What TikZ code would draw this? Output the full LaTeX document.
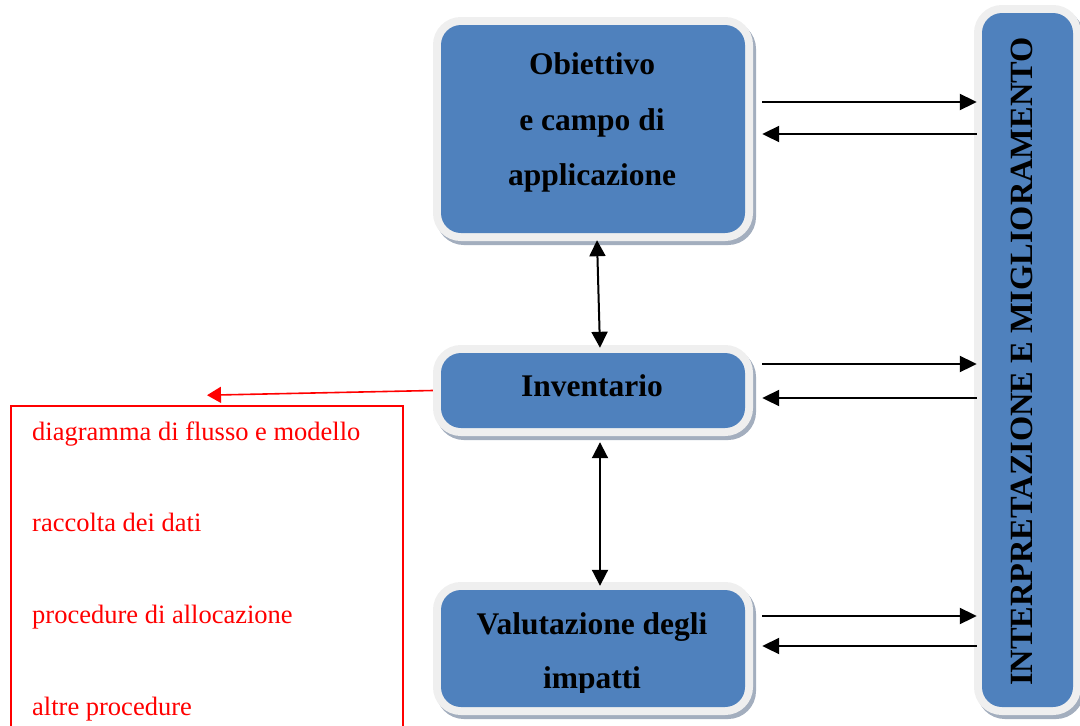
\documentclass[tikz,border=0pt]{standalone}
\usepackage{fontspec}
\setmainfont{Liberation Serif}
\usetikzlibrary{arrows.meta}
\definecolor{phaseblue}{HTML}{4F81BD}
\definecolor{framegray}{HTML}{EFEFEF}
\definecolor{shadowgray}{HTML}{A3AEBE}
\begin{document}
\begin{tikzpicture}[x=1pt,y=-1pt,
  phase/.style={rounded corners=20pt, fill=phaseblue, inner sep=0pt, draw=none,
    preaction={draw=shadowgray, fill=shadowgray, line width=16pt,
      transform canvas={shift={(3pt,-4pt)}}},
    preaction={draw=framegray, fill=framegray, line width=16pt}},
  phasetext/.style={anchor=base, inner sep=0pt, font=\fontsize{31.5}{36}\selectfont\bfseries},
  sidetext/.style={rotate=90, inner sep=0pt, font=\fontsize{32.4}{36}\selectfont\bfseries},
  notetext/.style={anchor=base west, inner sep=0pt, text=red, font=\fontsize{26.5}{30}\selectfont},
  arr/.style={line width=2pt, -{Triangle[length=17pt,width=16pt]}},
  dblarr/.style={line width=2pt, {Triangle[length=16pt,width=16pt]}-{Triangle[length=16pt,width=16pt]}},
  notebox/.style={draw=red, line width=1.6pt, inner sep=0pt},
  notearr/.style={draw=red, line width=1.6pt, -{Triangle[length=14pt,width=16pt]}}]
\useasboundingbox (0,0) rectangle (1080,726);

% phase boxes
\node[phase, minimum width=304pt, minimum height=208pt] (b1) at (593,129) {};
\node[phase, minimum width=304pt, minimum height=75pt] (b2) at (593,390.5) {};
\node[phase, minimum width=304pt, minimum height=117pt] (b3) at (593,648.5) {};
\node[phase, minimum width=91pt, minimum height=694pt] (r) at (1027.5,360) {};

% box labels
\node[phasetext] (t1a) at (592,74) {Obiettivo};
\node[phasetext] (t1b) at (592,130) {e campo di};
\node[phasetext] (t1c) at (592,185) {applicazione};
\node[phasetext] (t2) at (592,396) {Inventario};
\node[phasetext] (t3a) at (592,634) {Valutazione degli};
\begin{scope}
  \clip (441,590) rectangle (745,692);
  \node[phasetext] (t3b) at (592,688) {impatti};
\end{scope}
\node[sidetext] (tr) at (1022,361.5) {INTERPRETAZIONE E MIGLIORAMENTO};

% note box
\node[notebox, minimum width=392pt, minimum height=340pt] (rb) at (207,576) {};
\node[notetext] (n1) at (32,440) {diagramma di flusso e modello};
\node[notetext] (n2) at (32,531.5) {raccolta dei dati};
\node[notetext] (n3) at (32,623.5) {procedure di allocazione};
\node[notetext] (n4) at (32,715) {altre procedure};

% attachment points
\coordinate (b1e) at ([xshift=17pt]b1.east);
\coordinate (b2e) at ([xshift=17pt]b2.east);
\coordinate (b3e) at ([xshift=17pt]b3.east);
\coordinate (rin) at ([xshift=-5pt]r.west);

% exchanges with interpretation
\draw[arr] (b1e |- 0,102) -- (rin |- 0,102);
\draw[arr] (rin |- 0,134) -- (b1e |- 0,134);
\draw[arr] (b2e |- 0,364) -- (rin |- 0,364);
\draw[arr] (rin |- 0,398) -- (b2e |- 0,398);
\draw[arr] (b3e |- 0,616) -- (rin |- 0,616);
\draw[arr] (rin |- 0,646) -- (b3e |- 0,646);

% phase sequence
\draw[dblarr] ([xshift=4pt,yshift=-7pt]b1.south) -- ([xshift=7pt,yshift=5pt]b2.north);
\draw[dblarr] ([xshift=7pt,yshift=-14pt]b2.south) -- ([xshift=7pt,yshift=4pt]b3.north);

% inventory detail
\draw[notearr] ([xshift=-8pt]b2.west) -- ([yshift=10pt]rb.north);
\end{tikzpicture}
\end{document}
